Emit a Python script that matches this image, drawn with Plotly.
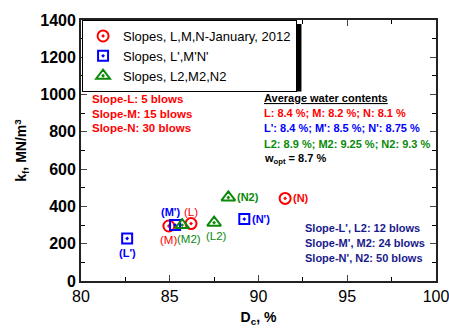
import plotly.graph_objects as go

# Data
series_names = ["Slopes, L,M,N-January, 2012", "Slopes, L',M'N'", "Slopes, L2,M2,N2"]
lmn_x = [86.2, 84.95, 91.5]
lmn_y = [308, 295, 443]
lmn_labels = ["(L)", "(M)", "(N)"]

p_x = [82.6, 85.3, 89.2]
p_y = [228, 300, 332]
p_labels = ["(L')", "(M')", "(N')"]

l2_x = [87.5, 85.7, 88.3]
l2_y = [313, 300, 448]
l2_labels = ["(L2)", "(M2)", "(N2)"]

RED = "#ff0000"
BLUE = "#0000ff"
GREEN = "#0a8a0a"
NAVY = "#1a1a8c"
FONT = "Liberation Sans, Arial, sans-serif"

fig = go.Figure()
for xs, ys, name, col, sym, sz in [
    (lmn_x, lmn_y, series_names[0], RED, "circle-open-dot", 11),
    (p_x, p_y, series_names[1], BLUE, "square-open-dot", 10),
    (l2_x, l2_y, series_names[2], GREEN, "triangle-up-open-dot", 12),
]:
    fig.add_trace(go.Scatter(x=xs, y=ys, mode="markers", name=name,
                             marker=dict(symbol=sym, size=sz, color=col,
                                         line=dict(width=2, color=col))))

ann = []
# point label placement: (dx, dy, bold)
place = {
    "(L)": (0, 12, False), "(M)": (0, -14, False), "(N)": (16, 0, True),
    "(L')": (0, -15, True), "(M')": (-5, 13, True), "(N')": (17, 0, True),
    "(L2)": (2, -13, False), "(M2)": (7, -14, False), "(N2)": (20, 0, True),
}
for xs, ys, labs, col in [(lmn_x, lmn_y, lmn_labels, RED), (p_x, p_y, p_labels, BLUE),
                          (l2_x, l2_y, l2_labels, GREEN)]:
    for x, y, t in zip(xs, ys, labs):
        dx, dy, bold = place[t]
        txt = f"<b>{t}</b>" if bold else t
        ann.append(dict(x=x, y=y, xref="x", yref="y", text=txt, showarrow=False,
                        xshift=dx, yshift=dy, font=dict(size=11.5 if not bold else 11, color=col, family=FONT)))

left_lines = ["Slope-L: 5 blows", "Slope-M: 15 blows", "Slope-N: 30 blows"]
for i, t in enumerate(left_lines):
    ann.append(dict(x=0.0254, y=0.696 - i * 0.0545, xref="paper", yref="paper", text=f"<b>{t}</b>",
                    showarrow=False, xanchor="left", yanchor="middle",
                    font=dict(size=11.5, color=RED, family=FONT)))

right_lines = [("<b><u>Average water contents</u></b>", "black"),
               ("<b>L: 8.4 %; M: 8.2 %; N: 8.1 %</b>", RED),
               ("<b>L': 8.4 %; M': 8.5 %; N': 8.75 %</b>", BLUE),
               ("<b>L2: 8.9 %; M2: 9.25 %; N2: 9.3 %</b>", GREEN),
               ("<b>w<sub>opt</sub> = 8.7 %</b>", "black")]
for i, (t, c) in enumerate(right_lines):
    ann.append(dict(x=0.511, y=0.702 - i * 0.0585, xref="paper", yref="paper", text=t,
                    showarrow=False, xanchor="left", yanchor="middle",
                    font=dict(size=11, color=c, family=FONT)))

navy_lines = ["Slope-L', L2: 12 blows", "Slope-M', M2: 24 blows", "Slope-N', N2: 50 blows"]
for i, t in enumerate(navy_lines):
    ann.append(dict(x=0.626, y=0.202 - i * 0.0565, xref="paper", yref="paper", text=f"<b>{t}</b>",
                    showarrow=False, xanchor="left", yanchor="middle",
                    font=dict(size=11, color=NAVY, family=FONT)))

fig.update_layout(
    width=449, height=329,
    margin=dict(l=81, r=13, t=20, b=48),
    paper_bgcolor="white", plot_bgcolor="white",
    font=dict(family=FONT, color="black"),
    showlegend=True,
    legend=dict(x=0.003, y=1.0, xanchor="left", yanchor="top",
                bgcolor="white", bordercolor="black", borderwidth=1,
                font=dict(size=13, family=FONT), tracegroupgap=0,
                itemwidth=30),
    annotations=ann,
    shapes=[dict(type="rect", xref="paper", yref="paper", x0=0.014, x1=0.621, y0=0.726, y1=0.985,
                 fillcolor="black", line=dict(width=0), layer="below")],
    xaxis=dict(range=[80, 100], tickvals=[80, 85, 90, 95, 100], ticks="inside", ticklen=6,
               showline=True, linecolor="#222", linewidth=1.8, mirror="allticks",
               showgrid=False, zeroline=False, automargin=False, ticklabeloverflow="allow",
               tickfont=dict(size=16, family=FONT), tickprefix="<b>", ticksuffix="</b>",
               minor=dict(dtick=2.5, ticks="inside", ticklen=4, tickcolor="black"),
               title=dict(text="<b>D<sub>c</sub>, %</b>", font=dict(size=14), standoff=8)),
    yaxis=dict(range=[0, 1400], dtick=200, ticks="inside", ticklen=6,
               showline=True, linecolor="#222", linewidth=1.8, mirror="allticks",
               showgrid=False, zeroline=False, automargin=False, ticklabeloverflow="allow",
               tickfont=dict(size=16, family=FONT), tickprefix="<b>", ticksuffix="</b>",
               minor=dict(dtick=100, ticks="inside", ticklen=4, tickcolor="black"),
               title=dict(text="<b>k<sub>f</sub>, MN/m<sup>3</sup></b>", font=dict(size=14), standoff=10)),
)
fig.write_html("out.html", config={"displayModeBar": False},
               post_script="document.body.style.margin='0';document.body.style.overflow='hidden';")
